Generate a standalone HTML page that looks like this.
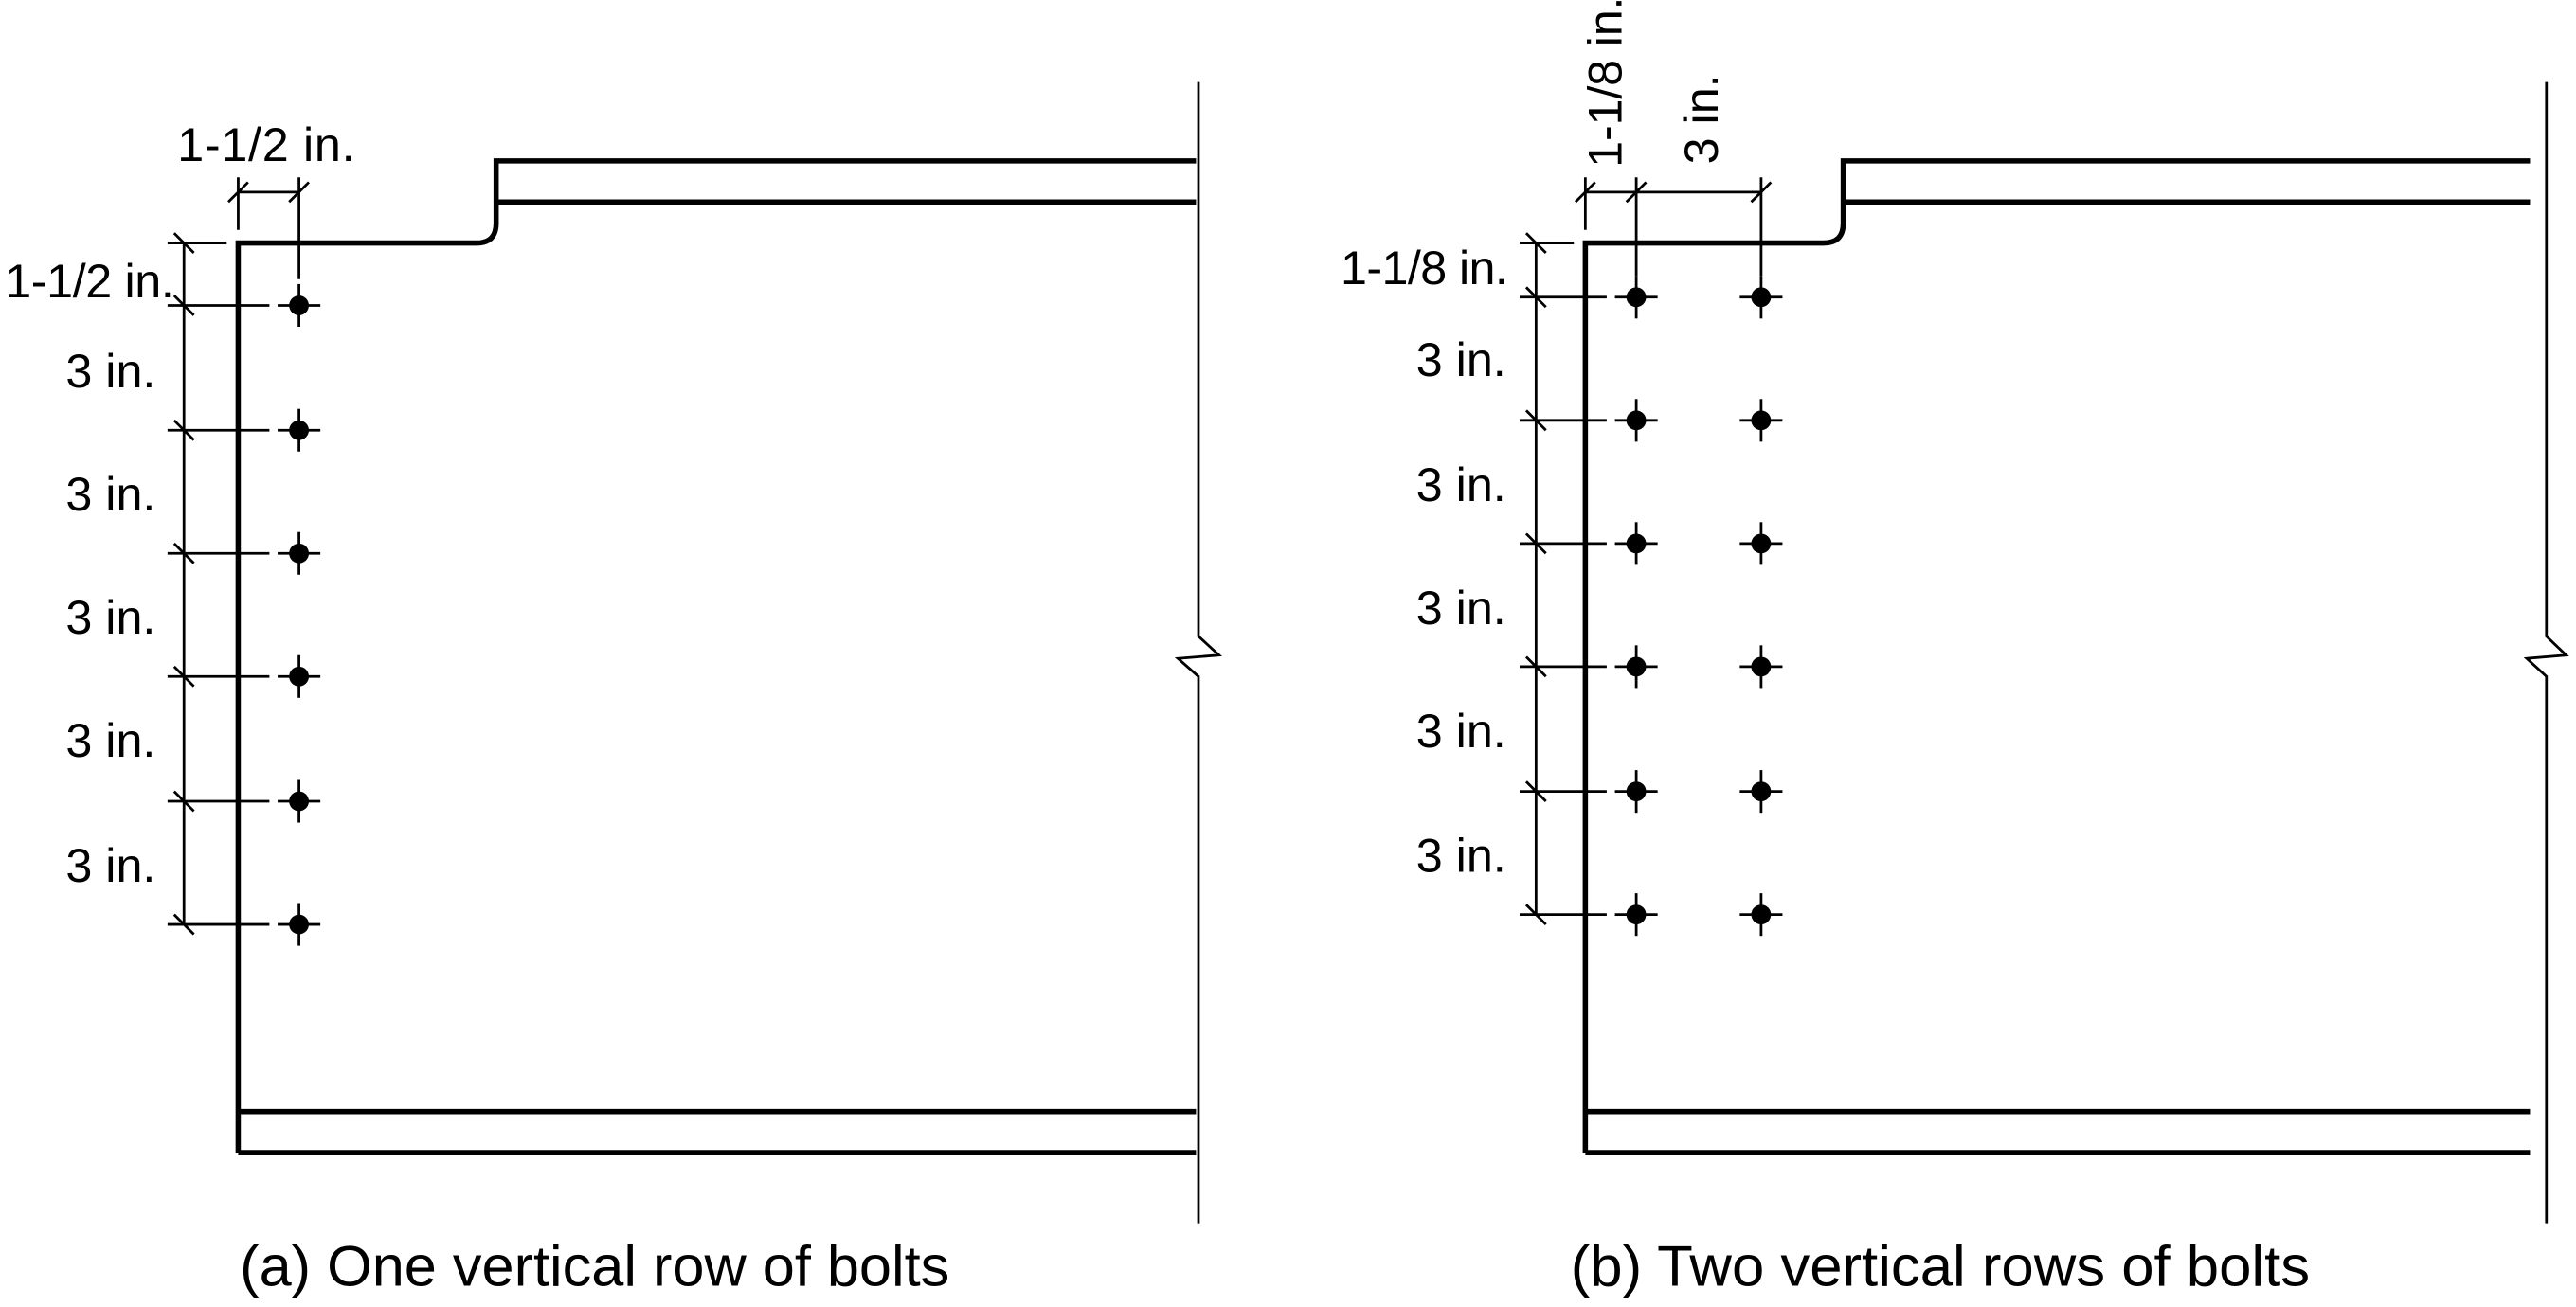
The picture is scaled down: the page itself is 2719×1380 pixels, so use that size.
<!DOCTYPE html>
<html><head><style>html,body{margin:0;padding:0;background:#fff}svg{display:block}</style></head>
<body>
<svg width="2719" height="1380" viewBox="0 0 1568 796" preserveAspectRatio="none" xmlns="http://www.w3.org/2000/svg" font-family="Liberation Sans, sans-serif">
<defs>
<g id="bolt">
<circle r="6" fill="#000"/>
<line x1="-13" y1="0" x2="13" y2="0" stroke="#000" stroke-width="1.6"/>
<line x1="0" y1="-13" x2="0" y2="13" stroke="#000" stroke-width="1.6"/>
</g>
<line id="tk" x1="-6" y1="-6" x2="6" y2="6" stroke="#000" stroke-width="1.6"/>
<line id="tkh" x1="-6" y1="6" x2="6" y2="-6" stroke="#000" stroke-width="1.6"/>
</defs>
<g fill="none" stroke="#000">
<path d="M145 702 V148 H290 Q302 148 302 136 V98 H728 M302 123 H728 M145 677 H728 M145 702 H728" stroke-width="3.2"/>
<path d="M729.5 50 V387.5 L742 399 L717 401 L729.5 412 V745" stroke-width="1.6"/>
<path d="M965 702 V148 H1110 Q1122 148 1122 136 V98 H1540 M1122 123 H1540 M965 677 H1540 M965 702 H1540" stroke-width="3.2"/>
<path d="M1550 50 V387.5 L1562 399 L1538 401 L1550 412 V745" stroke-width="1.6"/>
<g stroke-width="1.6">
<path d="M112 148 V563 M102 148 H138"/>
<path d="M102 186 H164 M102 262 H164 M102 337 H164 M102 412 H164 M102 488 H164 M102 563 H164"/>
<path d="M145 108 V140 M182 108 V170 M145 117 H182"/>
<path d="M935 148 V557 M925 148 H958"/>
<path d="M925 181 H978 M925 256 H978 M925 331 H978 M925 406 H978 M925 482 H978 M925 557 H978"/>
<path d="M965 108 V140 M996 108 V168 M1072 108 V168 M965 117 H1072"/>
</g>
</g>
<g>
<use href="#tk" x="112" y="148"/><use href="#tk" x="112" y="186"/><use href="#tk" x="112" y="262"/><use href="#tk" x="112" y="337"/><use href="#tk" x="112" y="412"/><use href="#tk" x="112" y="488"/><use href="#tk" x="112" y="563"/>
<use href="#tkh" x="145" y="117"/><use href="#tkh" x="182" y="117"/>
<use href="#tk" x="935" y="148"/><use href="#tk" x="935" y="181"/><use href="#tk" x="935" y="256"/><use href="#tk" x="935" y="331"/><use href="#tk" x="935" y="406"/><use href="#tk" x="935" y="482"/><use href="#tk" x="935" y="557"/>
<use href="#tkh" x="965" y="117"/><use href="#tkh" x="996" y="117"/><use href="#tkh" x="1072" y="117"/>
<use href="#bolt" x="182" y="186"/><use href="#bolt" x="182" y="262"/><use href="#bolt" x="182" y="337"/><use href="#bolt" x="182" y="412"/><use href="#bolt" x="182" y="488"/><use href="#bolt" x="182" y="563"/>
<use href="#bolt" x="996" y="181"/><use href="#bolt" x="996" y="256"/><use href="#bolt" x="996" y="331"/><use href="#bolt" x="996" y="406"/><use href="#bolt" x="996" y="482"/><use href="#bolt" x="996" y="557"/>
<use href="#bolt" x="1072" y="181"/><use href="#bolt" x="1072" y="256"/><use href="#bolt" x="1072" y="331"/><use href="#bolt" x="1072" y="406"/><use href="#bolt" x="1072" y="482"/><use href="#bolt" x="1072" y="557"/>
</g>
<g font-size="29" fill="#000">
<text x="108" y="98" textLength="108">1-1/2 in.</text>
<text x="3" y="181" textLength="103">1-1/2 in.</text>
<text x="40" y="236">3 in.</text><text x="40" y="311">3 in.</text><text x="40" y="386">3 in.</text><text x="40" y="461">3 in.</text><text x="40" y="537">3 in.</text>
<text x="816" y="173" textLength="102">1-1/8 in.</text>
<text x="862" y="229">3 in.</text><text x="862" y="305">3 in.</text><text x="862" y="380">3 in.</text><text x="862" y="455">3 in.</text><text x="862" y="531">3 in.</text>
<text transform="translate(987 102) rotate(-90)" textLength="104">1-1/8 in.</text>
<text transform="translate(1045.5 100) rotate(-90)">3 in.</text>
</g>
<g font-size="35" fill="#000">
<text x="146" y="783" textLength="432" lengthAdjust="spacingAndGlyphs">(a) One vertical row of bolts</text>
<text x="956" y="783" textLength="450" lengthAdjust="spacingAndGlyphs">(b) Two vertical rows of bolts</text>
</g>
</svg>
</body></html>
